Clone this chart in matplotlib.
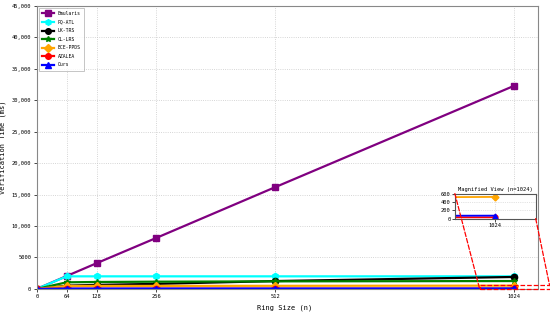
import matplotlib
matplotlib.use("Agg")
import matplotlib.pyplot as plt
from matplotlib.patches import Rectangle, ConnectionPatch

plt.rcParams['font.family'] = ['DejaVu Sans Mono', 'DejaVu Sans']

ring_sizes = [0, 64, 128, 256, 512, 1024]
emularis = [0, 2050, 4080, 8100, 16200, 32300]
pq_atl = [0, 2000, 2000, 2000, 2000, 2000]
lk_trs = [0, 520, 640, 800, 1250, 1900]
cl_lrs = [0, 1050, 1100, 1150, 1200, 1250]
bce_ppds = [0, 470, 475, 480, 490, 520]
azalea = [0, 20, 20, 22, 25, 30]
ours = [0, 45, 50, 55, 60, 70]

series_names = ['Emularis', 'PQ-ATL', 'LK-TRS', 'CL-LRS', 'BCE-PPDS', 'AZALEA', 'Ours']
series_values = [emularis, pq_atl, lk_trs, cl_lrs, bce_ppds, azalea, ours]
colors = ['#800080', '#00FFFF', '#000000', '#008000', '#FFA500', '#FF0000', '#0000FF']
markers = ['s', 'h', 'o', '*', 'D', 'o', '^']

y_ticks = [0, 5000, 10000, 15000, 20000, 25000, 30000, 35000, 40000, 45000]
y_ticklabels = ['0', '5000', '10,000', '15,000', '20,000', '25,000', '30,000', '35,000', '40,000', '45,000']

fig = plt.figure(figsize=(5.5, 3.12), dpi=100)
ax = fig.add_axes([0.067, 0.074, 0.911, 0.907])

for name, vals, c, m in zip(series_names, series_values, colors, markers):
    ax.plot(ring_sizes, vals, color=c, marker=m, markersize=4.5, linewidth=1.6, label=name)

ax.set_xlim(0, 1075)
ax.set_ylim(0, 45000)
ax.set_xticks(ring_sizes)
ax.set_xticklabels([str(v) for v in ring_sizes])
ax.set_yticks(y_ticks)
ax.set_yticklabels(y_ticklabels)
ax.tick_params(labelsize=3.9, length=2, width=0.5, pad=2)
ax.grid(True, linestyle=':', color='#c8c8c8', linewidth=0.6)
ax.set_xlabel('Ring Size (n)', fontsize=5)
ax.set_ylabel('Verification Time (ms)', fontsize=5)
ax.yaxis.set_label_coords(-0.062, 0.5)
ax.xaxis.set_label_coords(0.495, -0.055)
for s in ax.spines.values():
    s.set_color('#888888')
    s.set_linewidth(0.8)

leg = ax.legend(loc='upper left', fontsize=3.4, handlelength=2.5, markerscale=0.9,
                frameon=True, fancybox=False, edgecolor='#999999', borderpad=0.7,
                labelspacing=0.75, handletextpad=0.8, borderaxespad=0.4)
leg.get_frame().set_linewidth(0.5)

# inset
axin = fig.add_axes([0.827, 0.2995, 0.147, 0.080])
for name, vals, c, m in zip(series_names, series_values, colors, markers):
    axin.plot(ring_sizes, vals, color=c, marker=m, markersize=3.5, linewidth=1.3)
axin.set_xlim(950, 1100)
axin.set_ylim(0, 600)
axin.set_xticks([1024])
axin.set_xticklabels(['1024'])
axin.set_yticks([0, 200, 400, 600])
axin.tick_params(labelsize=3.9, length=2, width=0.5, pad=1)
axin.grid(True, linestyle=':', color='#c8c8c8', linewidth=0.5)
axin.set_title('Magnified View (n=1024)', fontsize=3.9, pad=2)
for s in axin.spines.values():
    s.set_color('#555555')
    s.set_linewidth(0.8)

rect = Rectangle((950, 0), 150, 600, fill=False, edgecolor='red', linestyle='--',
                 linewidth=0.9, clip_on=False, zorder=5)
ax.add_patch(rect)
con1 = ConnectionPatch(xyA=(0, 1), coordsA=axin.transAxes, xyB=(950, 0), coordsB=ax.transData,
                       color='red', linestyle='--', linewidth=0.9)
con2 = ConnectionPatch(xyA=(1, 0), coordsA=axin.transAxes, xyB=(1100, 600), coordsB=ax.transData,
                       color='red', linestyle='--', linewidth=0.9)
fig.add_artist(con1)
fig.add_artist(con2)

fig.savefig('out.png', dpi=100)
